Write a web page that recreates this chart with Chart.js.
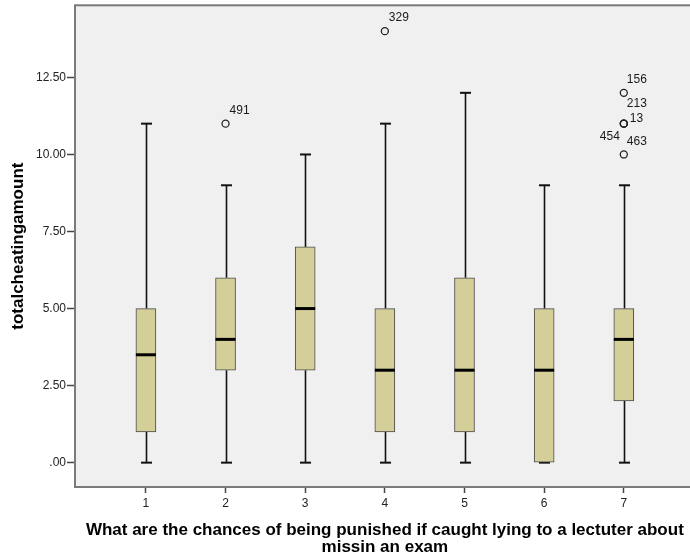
<!DOCTYPE html>
<html>
<head>
<meta charset="utf-8">
<script src="https://cdn.jsdelivr.net/npm/chart.js@4/dist/chart.umd.min.js"></script>
<style>
  html, body { margin: 0; padding: 0; background: #ffffff; overflow: hidden; }
  #wrap { width: 700px; height: 558px; }
</style>
</head>
<body>
<div id="wrap"><canvas id="c" width="700" height="558"></canvas></div>
<script>
// Groups on the x axis
const categories = [1, 2, 3, 4, 5, 6, 7];
// Five-number summaries per group
const whiskerLow  = [0, 0, 0, 0, 0, 0, 0];
const quartile1   = [1, 3, 3, 1, 1, 0, 2];
const medians     = [3.5, 4, 5, 3, 3, 3, 4];
const quartile3   = [5, 6, 7, 5, 6, 5, 5];
const whiskerHigh = [11, 9, 10, 11, 12, 9, 9];
// Outliers: group, value, case number
const outlierGroup = [2, 4, 7, 7, 7, 7, 7];
const outlierValue = [11, 14, 12, 11, 11, 11, 10];
const outlierCase  = ['491', '329', '156', '213', '13', '454', '463'];
// Axis ticks
const yTicks = [0, 2.5, 5, 7.5, 10, 12.5];

// Label placement relative to each outlier circle (dx, dy, align)
const caseLabelOffsets = {
  '491': [4, -13, 'left'],
  '329': [4, -14, 'left'],
  '156': [3, -13, 'left'],
  '213': [3, -20, 'left'],
  '13':  [6, -5, 'left'],
  '454': [-4, 13, 'right'],
  '463': [3, -13, 'left']
};

const FONT = 'Arial, "Liberation Sans", sans-serif';

const boxData = categories.map((c, i) => ({ x: c, y: [quartile1[i], quartile3[i]] }));
const outlierData = outlierGroup.map((g, i) => ({ x: g, y: outlierValue[i], label: outlierCase[i] }));

const plotFrame = {
  id: 'plotFrame',
  beforeDraw(chart) {
    const { ctx, chartArea: a } = chart;
    ctx.save();
    ctx.fillStyle = '#f0f0f0';
    ctx.fillRect(a.left, a.top, a.right - a.left, a.bottom - a.top);
    ctx.restore();
  },
  afterDraw(chart) {
    const { ctx, chartArea: a } = chart;
    ctx.save();
    ctx.strokeStyle = '#7a7a7a';
    ctx.lineWidth = 2;
    ctx.strokeRect(a.left, a.top, a.right - a.left, a.bottom - a.top);
    ctx.restore();
  }
};

const whiskers = {
  id: 'whiskers',
  beforeDatasetsDraw(chart) {
    const { ctx, scales: { x, y } } = chart;
    ctx.save();
    ctx.strokeStyle = '#111111';
    categories.forEach((c, i) => {
      const px = Math.round(x.getPixelForValue(c)) + 0.5;
      ctx.lineWidth = 1.6;
      ctx.beginPath();
      ctx.moveTo(px, y.getPixelForValue(whiskerLow[i]));
      ctx.lineTo(px, y.getPixelForValue(quartile1[i]));
      ctx.moveTo(px, y.getPixelForValue(quartile3[i]));
      ctx.lineTo(px, y.getPixelForValue(whiskerHigh[i]));
      ctx.stroke();
      ctx.lineWidth = 2;
      [whiskerLow[i], whiskerHigh[i]].forEach(v => {
        const py = y.getPixelForValue(v);
        ctx.beginPath();
        ctx.moveTo(px - 5.5, py);
        ctx.lineTo(px + 5.5, py);
        ctx.stroke();
      });
    });
    ctx.restore();
  },
  afterDatasetsDraw(chart) {
    const { ctx, scales: { x, y } } = chart;
    ctx.save();
    ctx.strokeStyle = '#000000';
    ctx.lineWidth = 3;
    categories.forEach((c, i) => {
      const px = x.getPixelForValue(c);
      const py = y.getPixelForValue(medians[i]);
      ctx.beginPath();
      ctx.moveTo(px - 10, py);
      ctx.lineTo(px + 10, py);
      ctx.stroke();
    });
    // case numbers next to outliers
    ctx.fillStyle = '#1a1a1a';
    ctx.font = '12px ' + FONT;
    ctx.textBaseline = 'middle';
    outlierData.forEach(p => {
      const off = caseLabelOffsets[p.label] || [4, -12, 'left'];
      ctx.textAlign = off[2];
      ctx.fillText(p.label, x.getPixelForValue(p.x) + off[0], y.getPixelForValue(p.y) + off[1]);
    });
    ctx.restore();
  }
};

function noEdgePadding(scale) {
  scale.paddingTop = 0;
  scale.paddingBottom = 0;
  scale.paddingLeft = 0;
  scale.paddingRight = 0;
}

new Chart(document.getElementById('c'), {
  type: 'bar',
  data: {
    datasets: [
      {
        type: 'bar',
        data: boxData,
        backgroundColor: '#d4cf99',
        borderColor: '#4a4a4a',
        borderWidth: 1,
        borderSkipped: false,
        barThickness: 20,
        order: 2
      },
      {
        type: 'scatter',
        data: outlierData,
        pointStyle: 'circle',
        pointRadius: 3.5,
        pointBorderWidth: 1.3,
        pointBorderColor: '#222222',
        pointBackgroundColor: 'rgba(0,0,0,0)',
        order: 1
      }
    ]
  },
  options: {
    responsive: false,
    animation: false,
    events: [],
    layout: { padding: { top: 5, right: 4, left: 0, bottom: 0 } },
    plugins: { legend: { display: false }, tooltip: { enabled: false } },
    scales: {
      x: {
        type: 'linear',
        min: 0.11,
        max: 7.89,
        offset: false,
        afterBuildTicks(scale) { scale.ticks = categories.map(v => ({ value: v })); },
        afterFit(scale) { scale.height = 71; noEdgePadding(scale); },
        grid: { offset: false, drawOnChartArea: false, drawTicks: true, tickLength: 6, tickColor: '#444', tickWidth: 1.5 },
        border: { display: false },
        ticks: {
          padding: 3,
          color: '#222',
          font: { family: FONT, size: 12 },
          maxRotation: 0,
          callback: v => String(v)
        },
        title: {
          display: true,
          text: ['What are the chances of being punished if caught lying to a lectuter about', 'missin an exam'],
          color: '#000',
          font: { family: FONT, size: 17, weight: 'bold', lineHeight: 0.95 },
          padding: { top: 0, bottom: 3 }
        }
      },
      y: {
        type: 'linear',
        min: -0.79,
        max: 14.84,
        afterBuildTicks(scale) { scale.ticks = yTicks.map(v => ({ value: v })); },
        afterFit(scale) { scale.width = 75; noEdgePadding(scale); },
        grid: { drawOnChartArea: false, drawTicks: true, tickLength: 8, tickColor: '#444', tickWidth: 1.5 },
        border: { display: false },
        ticks: {
          padding: 1,
          color: '#222',
          font: { family: FONT, size: 12 },
          callback: v => (v === 0 ? '.00' : v.toFixed(2))
        },
        title: {
          display: true,
          text: 'totalcheatingamount',
          color: '#000',
          font: { family: FONT, size: 17, weight: 'bold', lineHeight: 0.95 },
          padding: { top: 10, bottom: 0 }
        }
      }
    }
  },
  plugins: [plotFrame, whiskers]
});
</script>
</body>
</html>
